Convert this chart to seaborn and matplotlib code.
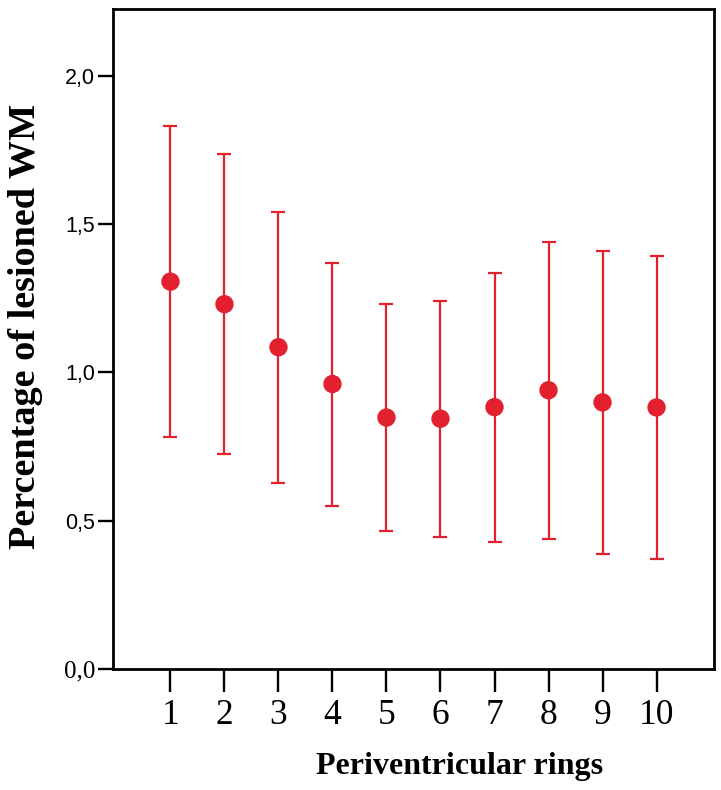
import numpy as np
import pandas as pd
import seaborn as sns
import matplotlib.pyplot as plt

# values
rings = [1, 2, 3, 4, 5, 6, 7, 8, 9, 10]
mean_pct = [1.306, 1.230, 1.085, 0.961, 0.848, 0.844, 0.883, 0.940, 0.899, 0.882]
ci_low = [0.781, 0.726, 0.627, 0.551, 0.464, 0.447, 0.430, 0.439, 0.389, 0.372]
ci_high = [1.829, 1.736, 1.540, 1.368, 1.231, 1.242, 1.336, 1.441, 1.408, 1.391]
y_ticks = [0.0, 0.5, 1.0, 1.5, 2.0]
y_tick_labels = ['0,0', '0,5', '1,0', '1,5', '2,0']

red = '#e2202e'

sns.set_style('ticks')
plt.rcParams['font.family'] = ['Liberation Serif', 'DejaVu Serif']
plt.rcParams['text.color'] = 'black'
plt.rcParams['axes.labelcolor'] = 'black'
plt.rcParams['xtick.color'] = 'black'
plt.rcParams['ytick.color'] = 'black'

df = pd.DataFrame({'ring': rings, 'mean': mean_pct, 'low': ci_low, 'high': ci_high})

fig = plt.figure(figsize=(7.21, 7.90), dpi=100)
ax = fig.add_axes([0.157, 0.153, 0.833, 0.836])

yerr = [df['mean'] - df['low'], df['high'] - df['mean']]
ax.errorbar(df['ring'], df['mean'], yerr=yerr, fmt='none', ecolor=red,
            elinewidth=1.6, capsize=4.8, capthick=1.6, zorder=2)
sns.scatterplot(data=df, x='ring', y='mean', color=red, s=175,
                edgecolor='none', linewidth=0, ax=ax, zorder=3)

ax.set_xlim(-0.06, 11.06)
ax.set_ylim(0, 2.226)
ax.set_xticks(rings)
ax.set_xticklabels([str(r) for r in rings], fontsize=25.5, family='Liberation Serif')
ax.set_yticks(y_ticks)
ax.set_yticklabels(y_tick_labels, fontsize=15.5, family='Liberation Sans')
zero_lbl = ax.get_yticklabels()[0]
zero_lbl.set_family('Liberation Serif')
zero_lbl.set_fontsize(18)

for sp in ax.spines.values():
    sp.set_linewidth(2.0)
    sp.set_color('black')
ax.tick_params(axis='x', length=16.5, width=1.7, pad=5, colors='black')
ax.tick_params(axis='y', length=11, width=1.7, pad=2, colors='black')

ax.set_xlabel('Periventricular rings', fontsize=23, fontweight='bold', color='black')
ax.xaxis.label.set_va('center')
ax.xaxis.set_label_coords(0.576, -0.148)
ax.set_ylabel('Percentage of lesioned WM', fontsize=27.5, fontweight='bold', color='black')
ax.yaxis.label.set_va('center')
ax.yaxis.set_label_coords(-0.146, 0.519)

fig.savefig('out.png', dpi=100)
